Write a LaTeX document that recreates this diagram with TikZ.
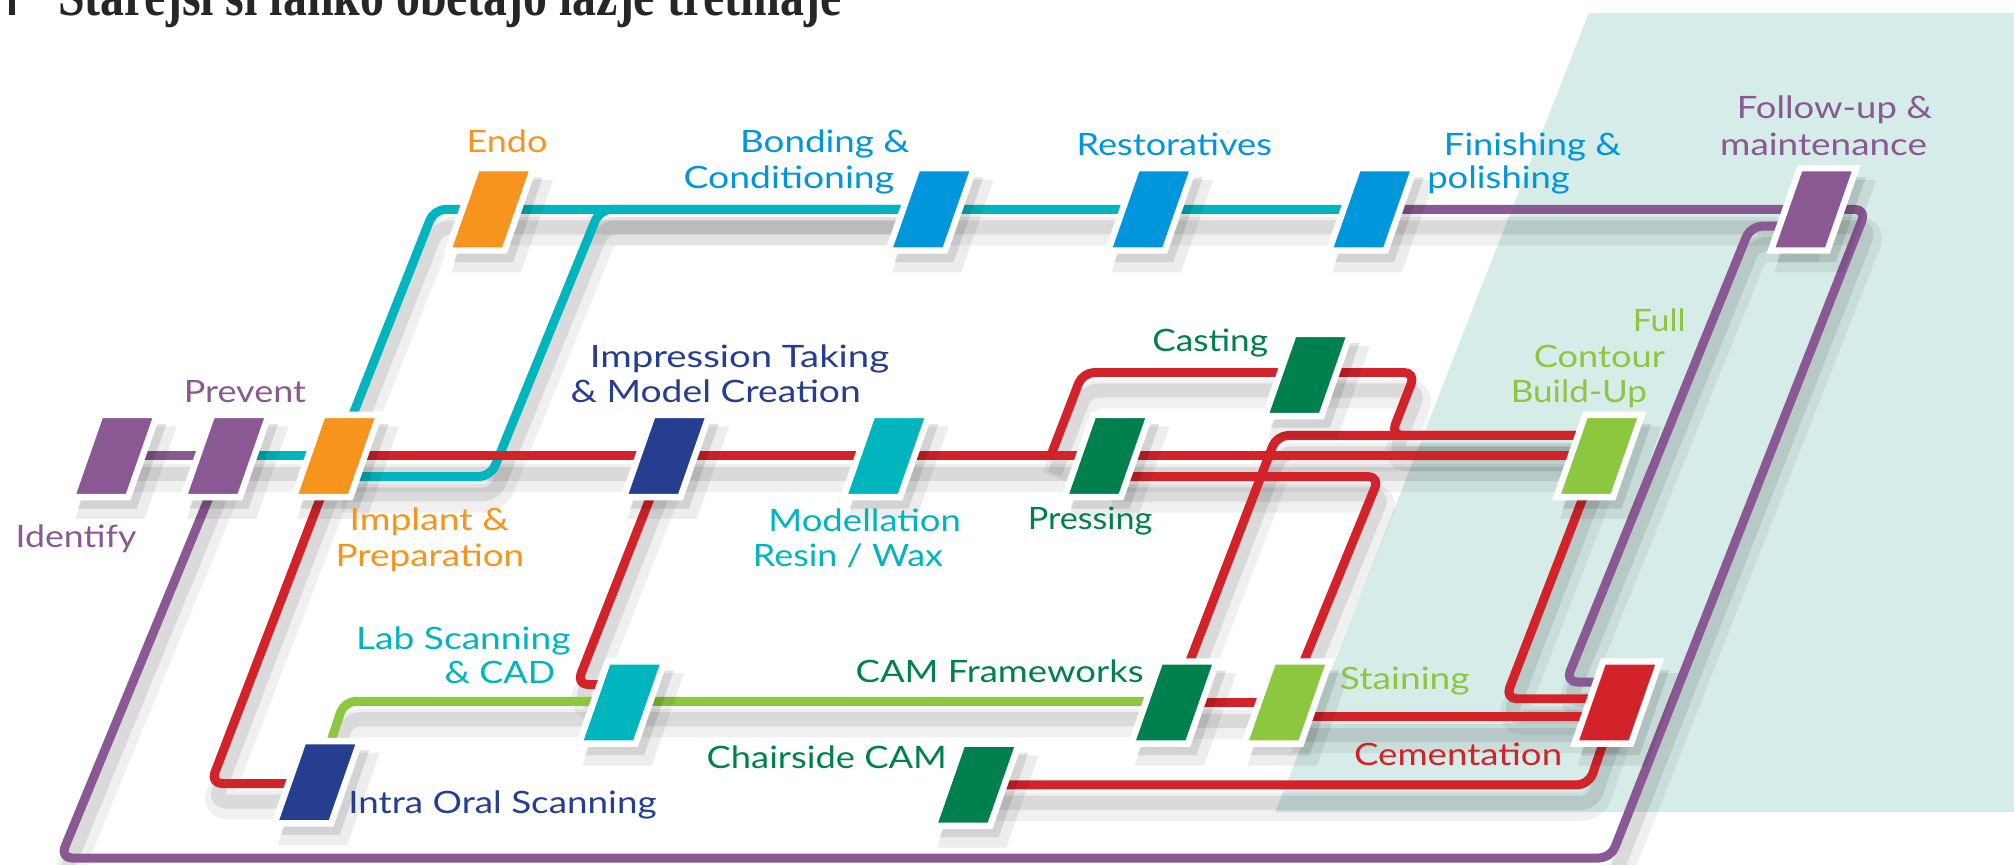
\documentclass[tikz,border=0pt]{standalone}
\usepackage{graphicx}
\usepackage{fontspec}
\setmainfont{Lato}
\newfontfamily\titlefont{Liberation Serif}
\definecolor{cPurple}{RGB}{138,88,146}
\definecolor{cOrange}{RGB}{247,148,29}
\definecolor{cBlue}{RGB}{0,150,219}
\definecolor{cTeal}{RGB}{0,181,189}
\definecolor{cNavy}{RGB}{37,62,143}
\definecolor{cGreen}{RGB}{0,128,76}
\definecolor{cLime}{RGB}{141,198,63}
\definecolor{cRed}{RGB}{210,35,42}
\definecolor{cShade}{RGB}{214,236,233}
\pgfdeclarelayer{shade}
\pgfdeclarelayer{lineshadow}
\pgfdeclarelayer{lines}
\pgfdeclarelayer{boxshadow}
\pgfsetlayers{shade,lineshadow,lines,boxshadow,main}
\tikzset{
  stbox/.style={draw=white, line width=5pt, fill=#1, minimum width=44pt, minimum height=64pt, inner sep=0pt, transform shape},
  stshadow/.style={fill=black, opacity=#1, minimum width=46pt, minimum height=66pt, inner sep=0pt, transform shape},
  metro/.style={draw=#1, line width=7pt, rounded corners=9pt, line join=round},
  mshadow/.style={draw=black, opacity=#1, rounded corners=9pt, line join=round},
  lbltext/.style={anchor=base west, inner sep=0pt, text=#1},
}
\newcommand\station[3]{%
  \begin{scope}[shift={#2}]
    \begin{pgfonlayer}{boxshadow}
      \begin{scope}[shift={(9,13)},xslant=.35]\node[stshadow=.07,minimum width=54pt,minimum height=72pt] at (0,0) {};\end{scope}
      \begin{scope}[shift={(6,8)},xslant=.35]\node[stshadow=.11] at (0,0) {};\end{scope}
    \end{pgfonlayer}
    \begin{scope}[xslant=.35]\node[stbox=#3] (#1) at (0,0) {};\end{scope}
  \end{scope}}
\newcommand\metroline[2]{%
  \begin{pgfonlayer}{lineshadow}
    \draw[mshadow=.06, line width=22pt, transform canvas={shift={(4,17)}}] #2;
    \draw[mshadow=.09, line width=11pt, transform canvas={shift={(3,14)}}] #2;
  \end{pgfonlayer}
  \begin{pgfonlayer}{lines}
    \draw[metro=#1] #2;
  \end{pgfonlayer}}
\newcommand\lbl[6]{\node[lbltext=#2] (#1) at #3 {\resizebox{#4pt}{\height}{\fontsize{24}{24}\selectfont #5}};}
\begin{document}
\begin{tikzpicture}[x=1pt,y=-1pt]
\useasboundingbox (0,0) rectangle (1568,673);
\begin{pgfonlayer}{shade}
  \fill[cShade] (1237,10) -- (1568,10) -- (1568,632) -- (993,632) -- cycle;
\end{pgfonlayer}
% title (cut off at the top, as in the reference)
\fill[black!85] (7,-5) rectangle (11.5,12);
\node[anchor=base west, inner sep=0pt, text=black!85] (title) at (45,12)
  {\resizebox{610pt}{\height}{\titlefont\bfseries\fontsize{45}{45}\selectfont Starejši si lahko obetajo lažje tretmaje}};
% stations
\station{identify}{(89,355)}{cPurple}
\station{prevent}{(176,355)}{cPurple}
\station{implant}{(262,355)}{cOrange}
\station{endo}{(382,163)}{cOrange}
\station{bonding}{(725,163)}{cBlue}
\station{restor}{(896,163)}{cBlue}
\station{finish}{(1068,163)}{cBlue}
\station{followup}{(1412,163)}{cPurple}
\station{impression}{(519,355)}{cNavy}
\station{modell}{(690,355)}{cTeal}
\station{casting}{(1018,292)}{cGreen}
\station{pressing}{(862,355)}{cGreen}
\station{fullc}{(1245,355)}{cLime}
\station{labscan}{(484,547)}{cTeal}
\station{camfw}{(914,547)}{cGreen}
\station{staining}{(1002,547)}{cLime}
\station{cement}{(1259,547)}{cRed}
\station{chairside}{(760,611)}{cGreen}
\station{intraoral}{(247,609)}{cNavy}
% bends
\coordinate (cTe1) at (338,163);
\coordinate (cTe2) at (382,371);
\coordinate (cTe3) at (467,163);
\coordinate (cP1) at (1453,163);
\coordinate (cP2) at (1254,668);
\coordinate (cP3) at (47,668);
\coordinate (cP4) at (1363,176);
\coordinate (cP5) at (1219,531);
\coordinate (cR1) at (818,355);
\coordinate (cR2) at (843,290);
\coordinate (cR3) at (1102,290);
\coordinate (cR4) at (1083,339);
\coordinate (cR5) at (994,339);
\coordinate (cR6) at (1074,371);
\coordinate (cR7) at (164,610);
\coordinate (cR8) at (449,533);
\coordinate (cR9) at (1100,558);
\coordinate (cR10) at (1172,544);
\coordinate (cR11) at (1237,611);
\coordinate (cG1) at (268,546);
% teal
\metroline{cTeal}{(implant.center) -- (cTe1) -- (finish.center)}
\metroline{cTeal}{(prevent.center) -- (implant.center)}
\metroline{cTeal}{(implant.center |- cTe2) -- (cTe2) -- (cTe3) -- (bonding.center)}
% purple
\metroline{cPurple}{(identify.center) -- (prevent.center)}
\metroline{cPurple}{(finish.center) -- (cP1) -- (cP2) -- (cP3) -- (prevent.center)}
\metroline{cPurple}{(followup.center |- cP4) -- (cP4) -- (cP5) -- (cement.center |- cP5)}
% red
\metroline{cRed}{(implant.center) -- (fullc.center)}
\metroline{cRed}{(cR1) -- (cR2) -- (cR3) -- (cR4) -- (fullc.center |- cR4)}
\metroline{cRed}{(camfw.center) -- (cR5) -- (fullc.center |- cR5)}
\metroline{cRed}{(pressing.center |- cR6) -- (cR6) -- (staining.center)}
\metroline{cRed}{(implant.center) -- (cR7) -- (intraoral.center |- cR7)}
\metroline{cRed}{(impression.center) -- (cR8) -- (labscan.center |- cR8)}
\metroline{cRed}{(camfw.center) -- (staining.center)}
\metroline{cRed}{(staining.center |- cR9) -- (cement.center |- cR9)}
\metroline{cRed}{(fullc.center) -- (cR10) -- (cement.center |- cR10)}
\metroline{cRed}{(chairside.center) -- (cR11) -- (cement.center)}
% lime
\metroline{cLime}{(intraoral.center) -- (cG1) -- (camfw.center |- cG1)}
% labels
\lbl{tEndo}{cOrange}{(363,119)}{63}{Endo}{}
\lbl{tBond1}{cBlue}{(576,119)}{132}{Bonding \&}{}
\lbl{tBond2}{cBlue}{(532,147)}{164}{Conditioning}{}
\lbl{tRest}{cBlue}{(838,121)}{152}{Restoratives}{}
\lbl{tFin1}{cBlue}{(1124,121)}{138}{Finishing \&}{}
\lbl{tFin2}{cBlue}{(1111,147)}{111}{polishing}{}
\lbl{tFol1}{cPurple}{(1352,92)}{152}{Follow-up \&}{}
\lbl{tFol2}{cPurple}{(1339,121)}{161}{maintenance}{}
\lbl{tPrev}{cPurple}{(143,313)}{95}{Prevent}{}
\lbl{tIden}{cPurple}{(12,426)}{94}{Identify}{}
\lbl{tImp1}{cOrange}{(272,413)}{124}{Implant \&}{}
\lbl{tImp2}{cOrange}{(261,441)}{147}{Preparation}{}
\lbl{tImr1}{cNavy}{(459,286)}{233}{Impression Taking}{}
\lbl{tImr2}{cNavy}{(444,313)}{226}{\& Model Creation}{}
\lbl{tMod1}{cTeal}{(598,414)}{150}{Modellation}{}
\lbl{tMod2}{cTeal}{(586,441)}{148}{Resin / Wax}{}
\lbl{tCast}{cGreen}{(897,274)}{90}{Casting}{}
\lbl{tPres}{cGreen}{(800,412)}{97}{Pressing}{}
\lbl{tFul1}{cLime}{(1271,258)}{41}{Full}{}
\lbl{tFul2}{cLime}{(1194,286)}{102}{Contour}{}
\lbl{tFul3}{cLime}{(1176,313)}{106}{Build-Up}{}
\lbl{tLab1}{cTeal}{(277,506)}{167}{Lab Scanning}{}
\lbl{tLab2}{cTeal}{(346,532)}{86}{\& CAD}{}
\lbl{tCamf}{cGreen}{(666,531)}{224}{CAM Frameworks}{}
\lbl{tStai}{cLime}{(1043,537)}{101}{Staining}{}
\lbl{tChai}{cGreen}{(550,598)}{187}{Chairside CAM}{}
\lbl{tCeme}{cRed}{(1054,596)}{162}{Cementation}{}
\lbl{tIntr}{cNavy}{(271,633)}{240}{Intra Oral Scanning}{}
\end{tikzpicture}
\end{document}
